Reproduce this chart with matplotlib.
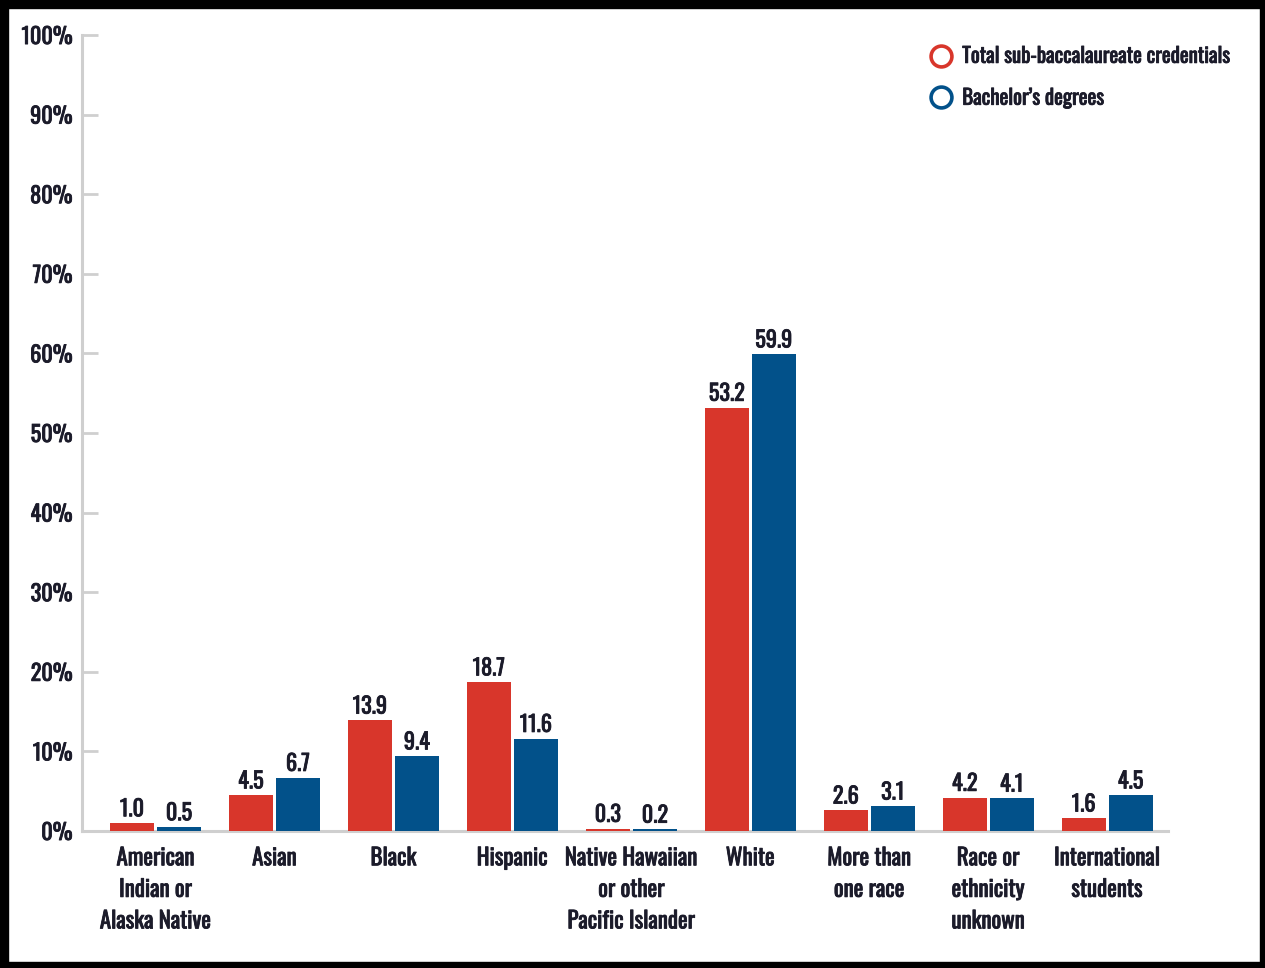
import matplotlib
matplotlib.use("Agg")
import matplotlib.pyplot as plt
import matplotlib.patheffects as pe
import numpy as np
from matplotlib.lines import Line2D
from matplotlib.patches import Rectangle

categories = [
    "American\nIndian or\nAlaska Native",
    "Asian",
    "Black",
    "Hispanic",
    "Native Hawaiian\nor other\nPacific Islander",
    "White",
    "More than\none race",
    "Race or\nethnicity\nunknown",
    "International\nstudents",
]
sub_bacc = [1.0, 4.5, 13.9, 18.7, 0.3, 53.2, 2.6, 4.2, 1.6]
bachelors = [0.5, 6.7, 9.4, 11.6, 0.2, 59.9, 3.1, 4.1, 4.5]
series_names = ["Total sub-baccalaureate credentials", "Bachelor\u2019s degrees"]
y_ticks = list(range(0, 101, 10))

RED = "#d8362b"
BLUE = "#02518a"
INK = "#1b1b2a"
AXIS_GRAY = "#cfcfcf"

plt.rcParams["font.family"] = ["Oswald", "Roboto Condensed", "DejaVu Sans"]
# Oswald only ships a regular weight here, so thicken the strokes a little
heavy = [pe.withStroke(linewidth=0.6, foreground=INK)]

fig = plt.figure(figsize=(12.65, 9.68), dpi=100)
ax = fig.add_axes([0.0648, 0.1415, 0.8582, 0.8223])

x = np.arange(len(categories))
w = 0.37
off = 0.1975
b1 = ax.bar(x - off, sub_bacc, w, color=RED, zorder=2)
b2 = ax.bar(x + off, bachelors, w, color=BLUE, zorder=2)

for bars, vals in ((b1, sub_bacc), (b2, bachelors)):
    for rect, v in zip(bars, vals):
        ax.annotate(f"{v:.1f}", (rect.get_x() + rect.get_width() / 2, v),
                    xytext=(0, 2), textcoords="offset points",
                    ha="center", va="bottom", fontsize=16, color=INK,
                    path_effects=heavy)

ax.set_xlim(-0.618, 8.508)
ax.set_ylim(0, 100)
ax.set_yticks(y_ticks)
ax.set_yticklabels([f"{t}%" for t in y_ticks], fontsize=16, color=INK)
ax.set_xticks(x)
ax.set_xticklabels(categories, fontsize=16.5, color=INK, linespacing=1.45, va="top")
ax.tick_params(axis="x", length=0, pad=11)
ax.tick_params(axis="y", direction="in", length=11.5, width=2, color=AXIS_GRAY, pad=7)
for lbl in ax.get_xticklabels() + ax.get_yticklabels():
    lbl.set_path_effects(heavy)

for side in ("top", "right"):
    ax.spines[side].set_visible(False)
for side in ("left", "bottom"):
    ax.spines[side].set_color(AXIS_GRAY)
    ax.spines[side].set_linewidth(2.2)
    ax.spines[side].set_zorder(1)

handles = [
    Line2D([], [], ls="none", marker="o", markersize=15, markerfacecolor="white",
           markeredgecolor=c, markeredgewidth=2.6)
    for c in (RED, BLUE)
]
leg = fig.legend(handles, series_names, loc="upper left", bbox_to_anchor=(0.7187, 0.972),
                 frameon=False, fontsize=15, handletextpad=0.35, labelspacing=1.05,
                 handlelength=1.3)
for t in leg.get_texts():
    t.set_color(INK)
    t.set_path_effects(heavy)

# black frame round the figure
for rx, ry, rw, rh in ((0, 0, 1, 0.0065), (0, 0.9917, 1, 0.0083),
                       (0, 0, 0.0065, 1), (0.996, 0, 0.004, 1)):
    fig.add_artist(Rectangle((rx, ry), rw, rh, transform=fig.transFigure,
                             color="black", zorder=10))

fig.savefig("out.png", dpi=100)
plt.close(fig)
